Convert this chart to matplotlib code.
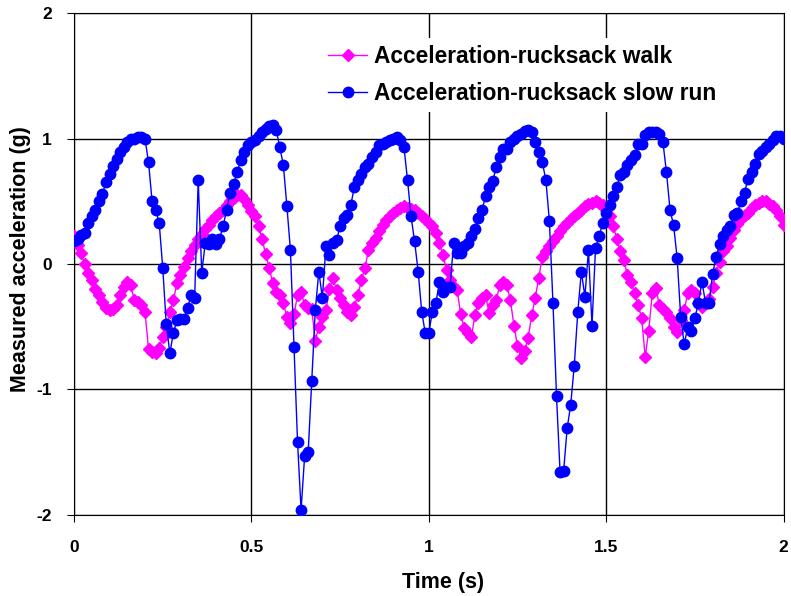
import matplotlib
matplotlib.use('Agg')
import matplotlib.pyplot as plt
import numpy as np

plt.rcParams['font.family'] = 'Liberation Sans'
plt.rcParams['font.weight'] = 'bold'
plt.rcParams['axes.unicode_minus'] = False

# sample times (s), one sample every 0.01 s
time = np.round(np.arange(201) * 0.01, 2)

# acceleration while walking with the rucksack (g)
walk = [0.22, 0.15, 0.09, 0.00, -0.07, -0.13, -0.20, -0.25, -0.30, -0.35,
        -0.37, -0.36, -0.33, -0.25, -0.18, -0.14, -0.17, -0.29, -0.30, -0.33,
        -0.38, -0.68, -0.70, -0.71, -0.67, -0.58, -0.50, -0.38, -0.29, -0.15,
        -0.09, -0.02, 0.05, 0.10, 0.15, 0.20, 0.24, 0.28, 0.31, 0.35,
        0.38, 0.41, 0.43, 0.47, 0.50, 0.53, 0.55, 0.55, 0.52, 0.47,
        0.42, 0.38, 0.30, 0.20, 0.08, -0.03, -0.15, -0.22, -0.25, -0.31,
        -0.42, -0.47, -0.40, -0.25, -0.22, -0.33, -0.35, -0.36, -0.61, -0.50,
        -0.42, -0.37, -0.20, -0.11, -0.21, -0.27, -0.33, -0.38, -0.41, -0.34,
        -0.25, -0.13, -0.03, 0.11, 0.17, 0.21, 0.26, 0.31, 0.35, 0.38,
        0.41, 0.43, 0.45, 0.46, 0.45, 0.44, 0.43, 0.41, 0.38, 0.36,
        0.33, 0.30, 0.25, 0.17, 0.07, -0.05, -0.13, -0.18, -0.21, -0.40,
        -0.51, -0.55, -0.58, -0.41, -0.31, -0.27, -0.25, -0.39, -0.33, -0.29,
        -0.17, -0.14, -0.17, -0.29, -0.49, -0.65, -0.75, -0.69, -0.59, -0.41,
        -0.27, -0.11, 0.06, 0.10, 0.14, 0.18, 0.22, 0.26, 0.30, 0.33,
        0.36, 0.38, 0.41, 0.43, 0.46, 0.48, 0.49, 0.50, 0.49, 0.47,
        0.43, 0.38, 0.30, 0.20, 0.10, 0.03, -0.09, -0.14, -0.23, -0.33,
        -0.43, -0.74, -0.53, -0.23, -0.19, -0.33, -0.36, -0.38, -0.43, -0.50,
        -0.54, -0.45, -0.37, -0.23, -0.21, -0.23, -0.31, -0.34, -0.31, -0.28,
        -0.18, -0.07, 0.02, 0.10, 0.14, 0.21, 0.27, 0.32, 0.36, 0.39,
        0.41, 0.45, 0.47, 0.49, 0.50, 0.50, 0.48, 0.46, 0.43, 0.38,
        0.31]

# acceleration during a slow run with the rucksack (g)
run = [0.18, 0.20, 0.23, 0.25, 0.33, 0.38, 0.43, 0.50, 0.56, 0.65,
       0.72, 0.78, 0.84, 0.89, 0.93, 0.97, 1.00, 1.00, 1.01, 1.01,
       1.00, 0.81, 0.50, 0.43, 0.33, -0.03, -0.48, -0.71, -0.55, -0.45,
       -0.44, -0.44, -0.35, -0.25, -0.27, 0.67, -0.07, 0.17, 0.16, 0.20,
       0.16, 0.20, 0.30, 0.43, 0.57, 0.64, 0.73, 0.83, 0.89, 0.95,
       0.97, 0.99, 1.02, 1.05, 1.08, 1.10, 1.11, 1.07, 0.93, 0.79,
       0.46, 0.11, -0.66, -1.42, -1.96, -1.53, -1.50, -0.93, -0.37, -0.06,
       -0.27, 0.14, 0.07, 0.17, 0.19, 0.30, 0.37, 0.39, 0.47, 0.61,
       0.67, 0.72, 0.77, 0.80, 0.85, 0.89, 0.95, 0.96, 0.97, 0.99,
       1.00, 1.01, 0.99, 0.93, 0.67, 0.38, 0.18, -0.06, -0.38, -0.55,
       -0.55, -0.38, -0.31, -0.14, -0.22, -0.18, -0.18, 0.17, 0.09, 0.09,
       0.14, 0.17, 0.22, 0.28, 0.37, 0.43, 0.54, 0.61, 0.66, 0.77,
       0.85, 0.92, 0.92, 0.97, 1.00, 1.02, 1.04, 1.06, 1.07, 1.05,
       0.97, 0.89, 0.81, 0.67, 0.34, -0.31, -1.05, -1.66, -1.65, -1.31,
       -1.12, -0.81, -0.38, -0.06, -0.26, 0.11, -0.49, 0.13, 0.22, 0.33,
       0.41, 0.47, 0.54, 0.61, 0.71, 0.73, 0.79, 0.83, 0.87, 0.96,
       0.96, 1.03, 1.05, 1.05, 1.05, 1.04, 0.97, 0.73, 0.43, 0.31,
       0.05, -0.42, -0.64, -0.50, -0.53, -0.43, -0.31, -0.14, -0.31, -0.31,
       -0.08, 0.06, 0.16, 0.22, 0.27, 0.30, 0.39, 0.41, 0.50, 0.57,
       0.68, 0.73, 0.80, 0.88, 0.90, 0.93, 0.96, 0.99, 1.02, 1.02,
       1.00]

fig = plt.figure(figsize=(7.91, 5.96), dpi=100)
ax = fig.add_axes([0.0936, 0.136, 0.897, 0.842])

ax.plot(time, walk, color='#FF00FF', marker='D', markersize=6.5, linewidth=1,
        label='Acceleration-rucksack walk', zorder=3)
ax.plot(time, run, color='#0000FF', marker='o', markersize=7.5, linewidth=1,
        label='Acceleration-rucksack slow run', zorder=4)

ax.set_xlim(0, 2)
ax.set_ylim(-2, 2)
ax.set_xticks([0, 0.5, 1, 1.5, 2])
ax.set_xticklabels(['0', '0.5', '1', '1.5', '2'])
ax.set_yticks([-2, -1, 0, 1, 2])
ax.set_yticklabels(['-2', '-1', '0', '1', '2'])
ax.grid(True, color='black', linewidth=1)
ax.set_axisbelow(True)
ax.tick_params(direction='out', length=5, labelsize=12.5)
ax.tick_params(axis='x', pad=13)
ax.tick_params(axis='y', pad=11)
for s in ax.spines.values():
    s.set_color('black')

ax.set_xlabel('Time (s)', fontsize=15.5, fontweight='bold', va='center')
ax.xaxis.set_label_coords(0.52, -0.135)
ax.set_ylabel('Measured acceleration (g)', fontsize=15.5, fontweight='bold', va='center')
ax.yaxis.set_label_coords(-0.076, 0.51)

leg = ax.legend(loc='upper left', bbox_to_anchor=(0.349, 0.95), frameon=True,
                fontsize=16.4, handlelength=1.7, handletextpad=0.3,
                labelspacing=0.6, borderpad=0.3, borderaxespad=0)
leg.get_frame().set_edgecolor('none')
leg.get_frame().set_facecolor('white')
leg.get_frame().set_alpha(1)

plt.savefig('out.png', dpi=100)
